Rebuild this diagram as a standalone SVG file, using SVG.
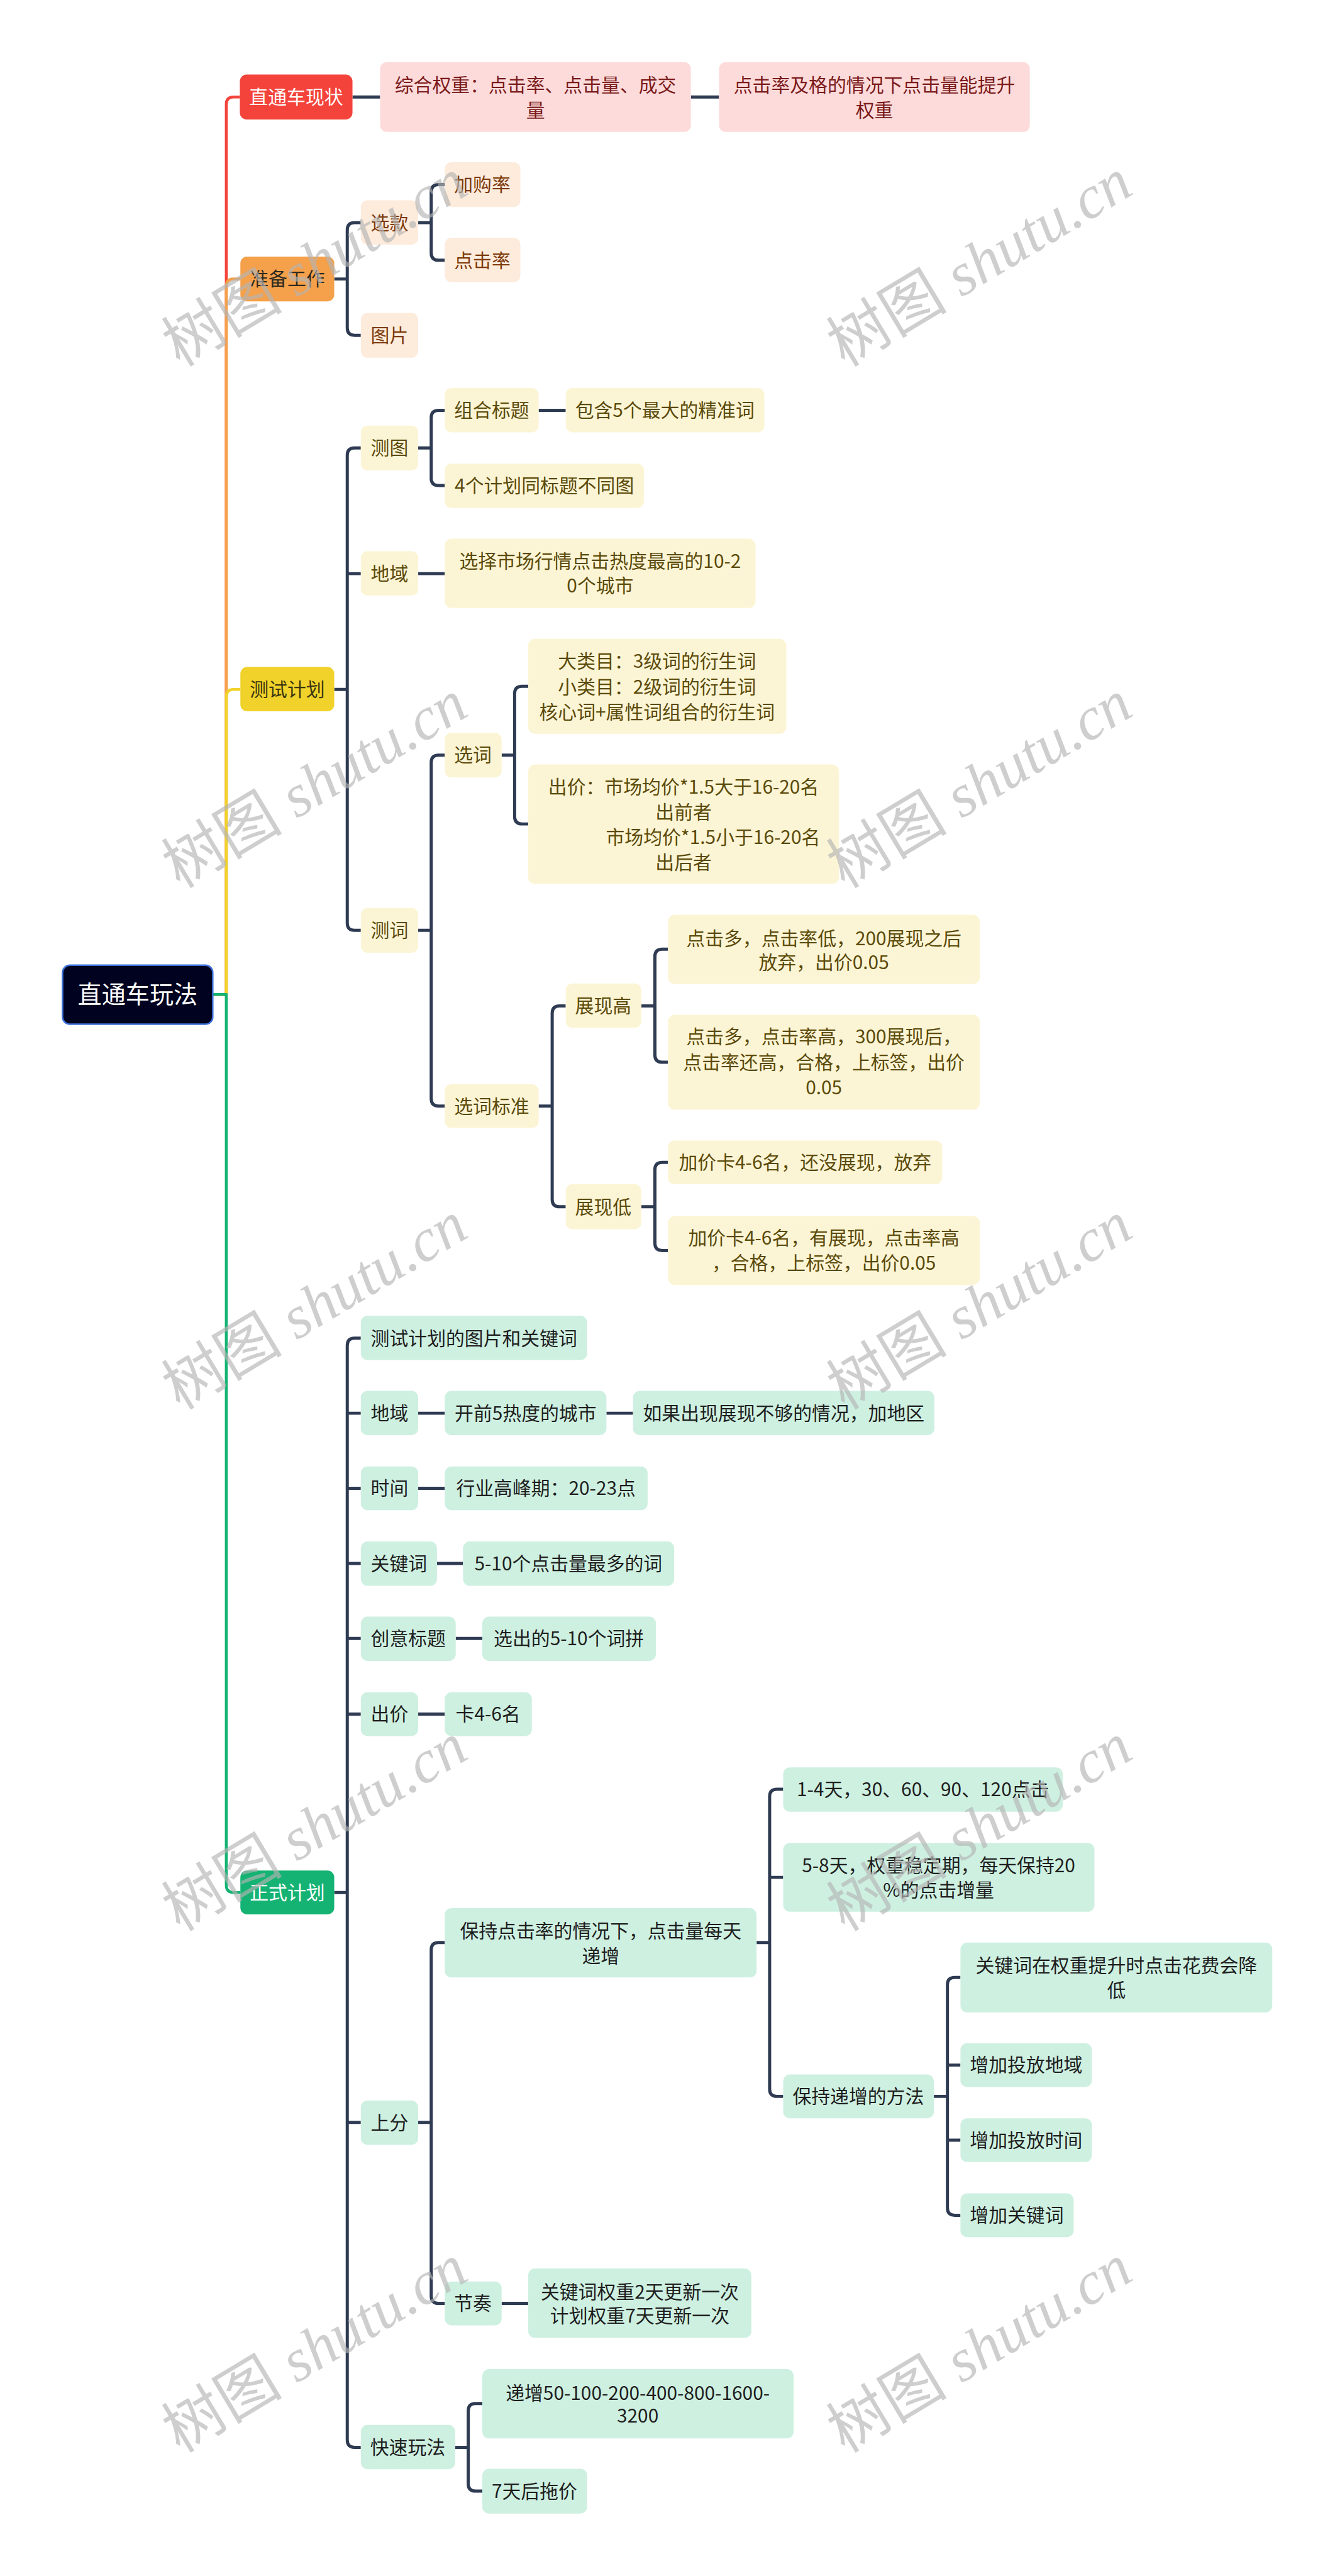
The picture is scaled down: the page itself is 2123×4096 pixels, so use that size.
<svg xmlns="http://www.w3.org/2000/svg" width="2123" height="4096" viewBox="0 0 2123 4096">
<style>
text{font-family:"Noto Sans CJK SC","Liberation Sans",sans-serif;font-size:36px;text-anchor:middle}
.c{fill:none;stroke:#2e3b52;stroke-width:6;stroke-linecap:butt;stroke-linejoin:round}
.m{fill:none;stroke-width:5.5;stroke-linejoin:round}
.red rect{fill:#f4433b}.red text{fill:#ffffff}
.pink rect{fill:#fddbdb}.pink text{fill:#7b1a1a}
.org rect{fill:#f5a04a}.org text{fill:#2e2a20}
.peach rect{fill:#fdebdc}.peach text{fill:#7c3a0a}
.yel rect{fill:#f0d22a}.yel text{fill:#3b3510}
.ly rect{fill:#fcf5d5}.ly text{fill:#5b4a0a}
.grn rect{fill:#14b373}.grn text{fill:#ffffff}
.mint rect{fill:#cef0e1}.mint text{fill:#1e1e1e}
.wm{font-family:"Liberation Serif","Noto Sans CJK SC",serif;font-size:116px;fill:#b4b4b4;fill-opacity:0.65;text-anchor:start}
</style>
<rect width="2123" height="4096" fill="#ffffff"/>
<g transform="scale(0.8292)">
<g id="connectors">
<path class="m" stroke="#f4433b" d="M408 1907H434V200Q434 186 448 186H460"/>
<path class="m" stroke="#f5a04a" d="M408 1907H434V549Q434 535 448 535H461"/>
<path class="m" stroke="#f0d22a" d="M408 1907H434V1336Q434 1322 448 1322H461"/>
<path class="m" stroke="#14b373" d="M408 1907H434V3615Q434 3629 448 3629H461"/>
<path class="c" d="M676 186H729"/>
<path class="c" d="M1325 186H1379"/>
<path class="c" d="M641 535H666V441Q666 427 680 427H692M666 535V629Q666 643 680 643H692"/>
<path class="c" d="M802 427H827V368Q827 354 841 354H853M827 427V485Q827 499 841 499H853"/>
<path class="c" d="M641 1322H666V873Q666 859 680 859H692M666 1322V1770Q666 1784 680 1784H692M666 1100H692"/>
<path class="c" d="M802 859H827V801Q827 787 841 787H853M827 859V917Q827 931 841 931H853"/>
<path class="c" d="M1033 787H1085"/>
<path class="c" d="M802 1100H853"/>
<path class="c" d="M802 1784H827V1462Q827 1448 841 1448H853M827 1784V2107Q827 2121 841 2121H853"/>
<path class="c" d="M962 1448H987V1330Q987 1316 1001 1316H1013M987 1448V1566Q987 1580 1001 1580H1013"/>
<path class="c" d="M1033 2121H1059V1943Q1059 1929 1073 1929H1085M1059 2121V2300Q1059 2314 1073 2314H1085"/>
<path class="c" d="M1230 1929H1256V1834Q1256 1820 1270 1820H1281M1256 1929V2023Q1256 2037 1270 2037H1281"/>
<path class="c" d="M1230 2314H1256V2243Q1256 2229 1270 2229H1281M1256 2314V2384Q1256 2398 1270 2398H1281"/>
<path class="c" d="M641 3629H666V2580Q666 2566 680 2566H692M666 3629V4679Q666 4693 680 4693H692M666 2710H692M666 2854H692M666 2998H692M666 3142H692M666 3287H692M666 4070H692"/>
<path class="c" d="M802 2710H853M1163 2710H1214"/>
<path class="c" d="M802 2854H853"/>
<path class="c" d="M838 2998H888"/>
<path class="c" d="M874 3142H925"/>
<path class="c" d="M802 3287H853"/>
<path class="c" d="M802 4070H827V3739Q827 3725 841 3725H853M827 4070V4403Q827 4417 841 4417H853"/>
<path class="c" d="M1451 3725H1476V3445Q1476 3431 1490 3431H1502M1476 3725V4006Q1476 4020 1490 4020H1502M1476 3600H1502"/>
<path class="c" d="M1791 4020H1817V3806Q1817 3792 1831 3792H1842M1817 4020V4234Q1817 4248 1831 4248H1842M1817 3960H1842M1817 4104H1842"/>
<path class="c" d="M962 4417H1013"/>
<path class="c" d="M873 4693H898V4623Q898 4609 912 4609H925M898 4693V4763Q898 4777 912 4777H925"/>
</g>

<g id="root"><rect x="120" y="1851" width="288" height="113" rx="14" fill="#00021f" stroke="#3b6fd6" stroke-width="3"/><text x="264" y="1924" style="font-size:46px;fill:#ffffff">直通车玩法</text></g>

<g id="n-xianzhuang" class="red"><rect x="460" y="143" width="216" height="86" rx="13"/><text x="568" y="199">直通车现状</text></g>
<g id="n-p1" class="pink"><rect x="729" y="119" width="596" height="134" rx="13"/><text x="1027"><tspan x="1027" y="176">综合权重：点击率、点击量、成交</tspan><tspan x="1027" y="224">量</tspan></text></g>
<g id="n-p2" class="pink"><rect x="1379" y="119" width="596" height="134" rx="13"/><text x="1677"><tspan x="1677" y="176">点击率及格的情况下点击量能提升</tspan><tspan x="1677" y="224">权重</tspan></text></g>

<g id="n-zhunbei" class="org"><rect x="461" y="492" width="180" height="86" rx="13"/><text x="551" y="548">准备工作</text></g>
<g id="n-xuankuan" class="peach"><rect x="692" y="384" width="110" height="85" rx="13"/><text x="747" y="440">选款</text></g>
<g id="n-jiagou" class="peach"><rect x="853" y="311" width="145" height="86" rx="13"/><text x="925" y="367">加购率</text></g>
<g id="n-dianji" class="peach"><rect x="853" y="456" width="145" height="85" rx="13"/><text x="925" y="512">点击率</text></g>
<g id="n-tupian" class="peach"><rect x="692" y="600" width="110" height="86" rx="13"/><text x="747" y="656">图片</text></g>

<g id="n-ceshi" class="yel"><rect x="461" y="1279" width="180" height="85" rx="13"/><text x="551" y="1335">测试计划</text></g>
<g id="n-cetu" class="ly"><rect x="692" y="816" width="110" height="86" rx="13"/><text x="747" y="872">测图</text></g>
<g id="n-zuhe" class="ly"><rect x="853" y="744" width="180" height="85" rx="13"/><text x="943" y="800">组合标题</text></g>
<g id="n-baohan" class="ly"><rect x="1085" y="744" width="381" height="85" rx="13"/><text x="1275" y="800">包含5个最大的精准词</text></g>
<g id="n-4ge" class="ly"><rect x="853" y="889" width="382" height="85" rx="13"/><text x="1044" y="944">4个计划同标题不同图</text></g>
<g id="n-diyu1" class="ly"><rect x="692" y="1057" width="110" height="85" rx="13"/><text x="747" y="1113">地域</text></g>
<g id="n-xuanze" class="ly"><rect x="853" y="1033" width="596" height="133" rx="13"/><text x="1151"><tspan x="1151" y="1089">选择市场行情点击热度最高的10-2</tspan><tspan x="1151" y="1136">0个城市</tspan></text></g>
<g id="n-ceci" class="ly"><rect x="692" y="1741" width="110" height="86" rx="13"/><text x="747" y="1797">测词</text></g>
<g id="n-xuanci" class="ly"><rect x="853" y="1405" width="109" height="86" rx="13"/><text x="907" y="1461">选词</text></g>
<g id="n-daleimu" class="ly"><rect x="1013" y="1225" width="495" height="182" rx="13"/><text x="1260"><tspan x="1260" y="1281">大类目：3级词的衍生词</tspan><tspan x="1260" y="1330">小类目：2级词的衍生词</tspan><tspan x="1260" y="1379">核心词+属性词组合的衍生词</tspan></text></g>
<g id="n-chujia1" class="ly"><rect x="1013" y="1466" width="596" height="229" rx="13"/><text x="1311"><tspan x="1311" y="1522">出价：市场均价*1.5大于16-20名</tspan><tspan x="1311" y="1570">出前者</tspan><tspan x="1573" y="1618" style="text-anchor:end">市场均价*1.5小于16-20名</tspan><tspan x="1311" y="1667">出后者</tspan></text></g>
<g id="n-biaozhun" class="ly"><rect x="853" y="2079" width="180" height="84" rx="13"/><text x="943" y="2134">选词标准</text></g>
<g id="n-gao" class="ly"><rect x="1085" y="1886" width="145" height="85" rx="13"/><text x="1157" y="1942">展现高</text></g>
<g id="n-gaoA" class="ly"><rect x="1281" y="1754" width="598" height="133" rx="13"/><text x="1580"><tspan x="1580" y="1812">点击多，点击率低，200展现之后</tspan><tspan x="1580" y="1858">放弃，出价0.05</tspan></text></g>
<g id="n-gaoB" class="ly"><rect x="1281" y="1946" width="598" height="182" rx="13"/><text x="1580"><tspan x="1580" y="2001">点击多，点击率高，300展现后，</tspan><tspan x="1580" y="2050">点击率还高，合格，上标签，出价</tspan><tspan x="1580" y="2099">0.05</tspan></text></g>
<g id="n-di" class="ly"><rect x="1085" y="2271" width="145" height="86" rx="13"/><text x="1157" y="2327">展现低</text></g>
<g id="n-diC" class="ly"><rect x="1281" y="2187" width="526" height="84" rx="13"/><text x="1544" y="2242">加价卡4-6名，还没展现，放弃</text></g>
<g id="n-diD" class="ly"><rect x="1281" y="2332" width="598" height="132" rx="13"/><text x="1580"><tspan x="1580" y="2387">加价卡4-6名，有展现，点击率高</tspan><tspan x="1580" y="2435">，合格，上标签，出价0.05</tspan></text></g>

<g id="n-zhengshi" class="grn"><rect x="461" y="3587" width="180" height="84" rx="13"/><text x="551" y="3642">正式计划</text></g>
<g id="n-g1" class="mint"><rect x="692" y="2523" width="434" height="85" rx="13"/><text x="909" y="2579">测试计划的图片和关键词</text></g>
<g id="n-diyu2" class="mint"><rect x="692" y="2667" width="110" height="85" rx="13"/><text x="747" y="2723">地域</text></g>
<g id="n-kaiqian" class="mint"><rect x="853" y="2667" width="310" height="85" rx="13"/><text x="1008" y="2723">开前5热度的城市</text></g>
<g id="n-ruguo" class="mint"><rect x="1214" y="2667" width="578" height="85" rx="13"/><text x="1503" y="2723">如果出现展现不够的情况，加地区</text></g>
<g id="n-shijian" class="mint"><rect x="692" y="2812" width="110" height="84" rx="13"/><text x="747" y="2867">时间</text></g>
<g id="n-hangye" class="mint"><rect x="853" y="2812" width="389" height="84" rx="13"/><text x="1047" y="2867">行业高峰期：20-23点</text></g>
<g id="n-guanjianci" class="mint"><rect x="692" y="2956" width="146" height="85" rx="13"/><text x="765" y="3011">关键词</text></g>
<g id="n-510" class="mint"><rect x="888" y="2956" width="405" height="85" rx="13"/><text x="1090" y="3011">5-10个点击量最多的词</text></g>
<g id="n-chuangyi" class="mint"><rect x="692" y="3100" width="182" height="85" rx="13"/><text x="783" y="3155">创意标题</text></g>
<g id="n-xuanchu" class="mint"><rect x="925" y="3100" width="333" height="85" rx="13"/><text x="1091" y="3155">选出的5-10个词拼</text></g>
<g id="n-chujia2" class="mint"><rect x="692" y="3245" width="110" height="84" rx="13"/><text x="747" y="3300">出价</text></g>
<g id="n-ka" class="mint"><rect x="853" y="3245" width="167" height="84" rx="13"/><text x="936" y="3300">卡4-6名</text></g>
<g id="n-shangfen" class="mint"><rect x="692" y="4028" width="110" height="85" rx="13"/><text x="747" y="4083">上分</text></g>
<g id="n-baochi" class="mint"><rect x="853" y="3659" width="598" height="133" rx="13"/><text x="1152"><tspan x="1152" y="3716">保持点击率的情况下，点击量每天</tspan><tspan x="1152" y="3764">递增</tspan></text></g>
<g id="n-14" class="mint"><rect x="1502" y="3389" width="536" height="85" rx="13"/><text x="1770" y="3444">1-4天，30、60、90、120点击</text></g>
<g id="n-58" class="mint"><rect x="1502" y="3534" width="597" height="132" rx="13"/><text x="1800"><tspan x="1800" y="3590">5-8天，权重稳定期，每天保持20</tspan><tspan x="1800" y="3637">%的点击增量</tspan></text></g>
<g id="n-fangfa" class="mint"><rect x="1502" y="3978" width="289" height="84" rx="13"/><text x="1646" y="4033">保持递增的方法</text></g>
<g id="n-jiangdi" class="mint"><rect x="1842" y="3725" width="598" height="134" rx="13"/><text x="2141"><tspan x="2141" y="3782">关键词在权重提升时点击花费会降</tspan><tspan x="2141" y="3829">低</tspan></text></g>
<g id="n-zjdy" class="mint"><rect x="1842" y="3918" width="252" height="84" rx="13"/><text x="1968" y="3973">增加投放地域</text></g>
<g id="n-zjsj" class="mint"><rect x="1842" y="4062" width="252" height="84" rx="13"/><text x="1968" y="4117">增加投放时间</text></g>
<g id="n-zjgjc" class="mint"><rect x="1842" y="4206" width="217" height="84" rx="13"/><text x="1950" y="4261">增加关键词</text></g>
<g id="n-jiezou" class="mint"><rect x="853" y="4375" width="109" height="84" rx="13"/><text x="907" y="4430">节奏</text></g>
<g id="n-gengxin" class="mint"><rect x="1013" y="4350" width="428" height="133" rx="13"/><text x="1227"><tspan x="1227" y="4408">关键词权重2天更新一次</tspan><tspan x="1227" y="4454">计划权重7天更新一次</tspan></text></g>
<g id="n-kuaisu" class="mint"><rect x="692" y="4650" width="181" height="85" rx="13"/><text x="782" y="4706">快速玩法</text></g>
<g id="n-dizeng" class="mint"><rect x="925" y="4543" width="597" height="133" rx="13"/><text x="1223"><tspan x="1223" y="4602">递增50-100-200-400-800-1600-</tspan><tspan x="1223" y="4646">3200</tspan></text></g>
<g id="n-tuojia" class="mint"><rect x="925" y="4734" width="201" height="86" rx="13"/><text x="1025" y="4790">7天后拖价</text></g>

<g id="watermarks">
<text class="wm" transform="translate(345 705) rotate(-31)">树图 <tspan font-style="italic">shutu.cn</tspan></text>
<text class="wm" transform="translate(1620 705) rotate(-31)">树图 <tspan font-style="italic">shutu.cn</tspan></text>
<text class="wm" transform="translate(345 1705) rotate(-31)">树图 <tspan font-style="italic">shutu.cn</tspan></text>
<text class="wm" transform="translate(1620 1705) rotate(-31)">树图 <tspan font-style="italic">shutu.cn</tspan></text>
<text class="wm" transform="translate(345 2705) rotate(-31)">树图 <tspan font-style="italic">shutu.cn</tspan></text>
<text class="wm" transform="translate(1620 2705) rotate(-31)">树图 <tspan font-style="italic">shutu.cn</tspan></text>
<text class="wm" transform="translate(345 3705) rotate(-31)">树图 <tspan font-style="italic">shutu.cn</tspan></text>
<text class="wm" transform="translate(1620 3705) rotate(-31)">树图 <tspan font-style="italic">shutu.cn</tspan></text>
<text class="wm" transform="translate(345 4705) rotate(-31)">树图 <tspan font-style="italic">shutu.cn</tspan></text>
<text class="wm" transform="translate(1620 4705) rotate(-31)">树图 <tspan font-style="italic">shutu.cn</tspan></text>
</g>
</g>
</svg>
